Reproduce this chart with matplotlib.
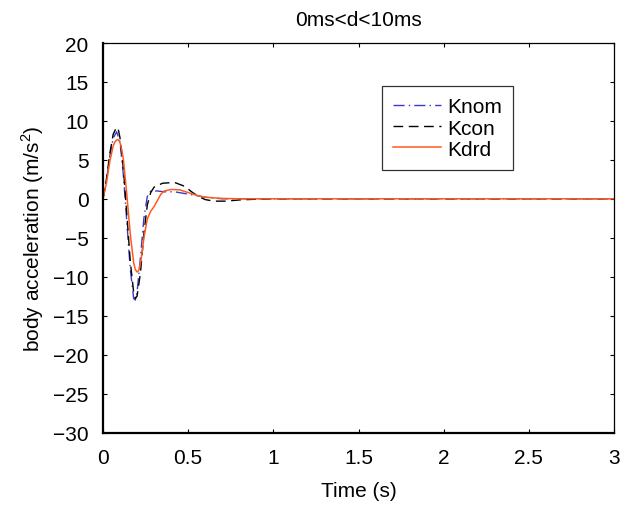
import matplotlib
matplotlib.use("Agg")
import matplotlib.pyplot as plt

plt.rcParams['font.family'] = ['Liberation Sans', 'DejaVu Sans']
plt.rcParams['mathtext.fontset'] = 'custom'
plt.rcParams['mathtext.rm'] = 'Liberation Sans'

t_nom = [0, 0.02, 0.04, 0.06, 0.08, 0.10, 0.12, 0.14, 0.16, 0.18, 0.19, 0.20, 0.22, 0.24, 0.26, 0.28, 0.32, 0.36, 0.42, 0.50, 0.60, 0.70, 3.0]
y_nom = [0, 2.3, 5.5, 7.8, 8.6, 7.3, 3.0, -3.0, -9.0, -12.8, -13.0, -12.0, -7.5, -2.5, 0.3, 1.0, 1.0, 0.9, 0.9, 0.6, 0.2, 0.0, 0.0]

t_con = [0, 0.02, 0.04, 0.06, 0.08, 0.09, 0.10, 0.12, 0.14, 0.16, 0.18, 0.19, 0.20, 0.22, 0.24, 0.26, 0.28, 0.30, 0.35, 0.42, 0.48, 0.52, 0.56, 0.60, 0.65, 0.72, 0.80, 0.90, 1.0, 3.0]
y_con = [0, 2.5, 5.8, 8.3, 9.2, 8.9, 7.8, 3.8, -2.0, -8.0, -12.0, -12.8, -12.5, -9.5, -4.5, -0.8, 0.8, 1.5, 2.0, 2.1, 1.6, 0.9, 0.3, -0.1, -0.3, -0.3, -0.15, -0.05, 0.0, 0.0]

t_drd = [0, 0.02, 0.04, 0.06, 0.07, 0.08, 0.09, 0.10, 0.11, 0.12, 0.14, 0.16, 0.18, 0.19, 0.20, 0.21, 0.22, 0.23, 0.24, 0.26, 0.28, 0.30, 0.32, 0.34, 0.36, 0.40, 0.45, 0.50, 0.55, 0.60, 0.70, 0.80, 3.0]
y_drd = [0, 2.0, 4.8, 6.8, 7.3, 7.55, 7.6, 7.2, 6.3, 5.0, 0.5, -4.5, -8.2, -9.1, -9.4, -9.2, -8.3, -6.8, -5.0, -2.6, -1.6, -1.0, -0.2, 0.6, 1.0, 1.2, 1.15, 0.8, 0.45, 0.2, 0.05, 0.0, 0.0]

fig = plt.figure(figsize=(6.2, 5.06), dpi=100)
ax = fig.add_axes([103 / 620, 1 - 433.5 / 506, 511 / 620, 389.5 / 506])

ax.plot(t_nom, y_nom, color='#3a3ad0', lw=1.0, ls=(0, (8, 3, 1, 3)), label='Knom')
ax.plot(t_con, y_con, color='black', lw=1.0, ls=(0, (7, 4)), label='Kcon')
ax.plot(t_drd, y_drd, color='#ff5a1e', lw=1.1, label='Kdrd')

ax.set_xlim(0, 3)
ax.set_ylim(-30, 20)
ax.set_xticks([0, 0.5, 1, 1.5, 2, 2.5, 3])
ax.set_xticklabels(['0', '0.5', '1', '1.5', '2', '2.5', '3'])
ax.set_yticks(range(-30, 21, 5))
ax.tick_params(direction='in', top=True, right=True, length=3, labelsize=15, width=0.8)
ax.tick_params(axis='x', pad=11)
ax.tick_params(axis='y', pad=10.5)
ax.spines['left'].set_linewidth(1.6)
ax.spines['bottom'].set_linewidth(1.6)
ax.spines['top'].set_linewidth(0.9)
ax.spines['right'].set_linewidth(0.9)

ax.set_xlabel('Time (s)', fontsize=15, labelpad=10)
ax.set_ylabel('body acceleration (m/s$^2$)', fontsize=15, labelpad=5)
ax.set_title('0ms<d<10ms', fontsize=15, pad=13)

leg = ax.legend(loc='upper left', bbox_to_anchor=(0.546, 0.8896), fontsize=15, frameon=True,
                fancybox=False, edgecolor='black', handlelength=2.26, handletextpad=0.3,
                borderpad=0.55, labelspacing=0.1, borderaxespad=0)
leg.get_frame().set_linewidth(0.9)

fig.savefig('out.png', dpi=100)
